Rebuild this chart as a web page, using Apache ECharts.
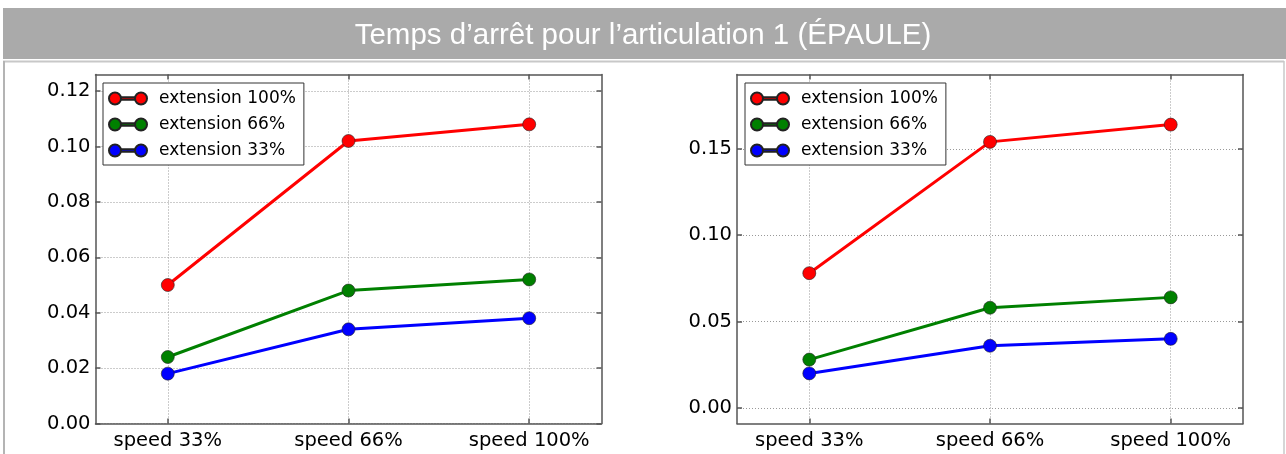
<!DOCTYPE html>
<html>
<head>
<meta charset="utf-8">
<script src="https://cdn.jsdelivr.net/npm/echarts@6/dist/echarts.min.js"></script>
<style>
  html, body { margin: 0; padding: 0; background: #fff; }
  #main { width: 1286px; height: 454px; }
</style>
</head>
<body>
<div id="main"></div>
<script>
var titleText = 'Temps d\u2019arrêt pour l\u2019articulation 1 (ÉPAULE)';
var categories = ['speed 33%', 'speed 66%', 'speed 100%'];
var seriesNames = ['extension 100%', 'extension 66%', 'extension 33%'];
var seriesColors = ['#ff0000', '#008000', '#0000ff'];

// left panel
var left100 = [0.050, 0.102, 0.108];
var left66 = [0.024, 0.048, 0.052];
var left33 = [0.018, 0.034, 0.038];
var leftTicks = [0, 0.02, 0.04, 0.06, 0.08, 0.10, 0.12];

// right panel
var right100 = [0.078, 0.154, 0.164];
var right66 = [0.028, 0.058, 0.064];
var right33 = [0.020, 0.036, 0.040];
var rightTicks = [0, 0.05, 0.10, 0.15];

var font = 'DejaVu Sans';
var frameStyle = { color: '#555', width: 1.5 };
var gridStyle = { color: '#999', width: 1, type: [1, 2] };
var catTicks = categories.map(function(c, i) { return i; });
var legendIcon = 'path://M0,6a6,6 0 1,0 12,0a6,6 0 1,0 -12,0ZM12,4.8H26V7.2H12ZM26,6a6,6 0 1,0 12,0a6,6 0 1,0 -12,0Z';

function xAxes(gi) {
  return [{
    gridIndex: gi, type: 'value', position: 'bottom', min: -0.4, max: 2.4,
    axisLine: { onZero: false, lineStyle: frameStyle },
    axisTick: { inside: true, length: 5, customValues: catTicks, lineStyle: frameStyle },
    axisLabel: {
      customValues: catTicks, margin: 7, color: '#000', fontFamily: font, fontSize: 19.5,
      formatter: function(v) { return categories[Math.round(v)]; }
    },
    splitLine: { show: true, lineStyle: gridStyle }
  }, {
    gridIndex: gi, type: 'value', position: 'top', min: -0.4, max: 2.4,
    axisLine: { onZero: false, lineStyle: frameStyle },
    axisTick: { inside: true, length: 5, customValues: catTicks, lineStyle: frameStyle },
    axisLabel: { show: false },
    splitLine: { show: false }
  }];
}

function yAxes(gi, min, max, ticks) {
  return [{
    gridIndex: gi, type: 'value', position: 'left', min: min, max: max,
    axisLine: { show: true, onZero: false, lineStyle: frameStyle },
    axisTick: { show: true, inside: true, length: 5, customValues: ticks, lineStyle: frameStyle },
    axisLabel: {
      customValues: ticks, margin: 5, color: '#000', fontFamily: font, fontSize: 19.5,
      formatter: function(v) { return v.toFixed(2); }
    },
    splitLine: { show: true, lineStyle: gridStyle }
  }, {
    gridIndex: gi, type: 'value', position: 'right', min: min, max: max,
    axisLine: { show: true, onZero: false, lineStyle: frameStyle },
    axisTick: { show: true, inside: true, length: 5, customValues: ticks, lineStyle: frameStyle },
    axisLabel: { show: false },
    splitLine: { show: false }
  }];
}

function lineSeries(name, color, values, xi, yi) {
  return {
    name: name, type: 'line', xAxisIndex: xi, yAxisIndex: yi,
    data: values.map(function(v, i) { return [i, v]; }),
    symbol: 'circle', symbolSize: 13,
    lineStyle: { color: color, width: 3 },
    itemStyle: { color: color, borderColor: '#222', borderWidth: 0.6 },
    emphasis: { disabled: true },
    animation: false
  };
}

function legendAt(left) {
  return {
    orient: 'vertical', left: left, top: 83,
    data: seriesNames, icon: legendIcon,
    itemWidth: 38, itemHeight: 12, itemGap: 9,
    padding: [7, 8, 6, 5],
    borderColor: '#333', borderWidth: 1, borderRadius: 0,
    backgroundColor: '#fff',
    selectedMode: false,
    textStyle: { fontFamily: font, fontSize: 17, color: '#000', padding: [0, 0, 0, 7] }
  };
}

var chart = echarts.init(document.getElementById('main'));
chart.setOption({
  animation: false,
  title: {
    text: titleText, left: 'center', top: 16,
    textStyle: { color: '#fff', fontFamily: 'Liberation Sans', fontSize: 29.5, fontWeight: 'normal' }
  },
  graphic: [
    { type: 'rect', z: -10, shape: { x: 3, y: 8, width: 1283, height: 51 }, style: { fill: '#aaaaaa' } },
    { type: 'line', z: -10, shape: { x1: 3, y1: 61.5, x2: 1284, y2: 61.5 }, style: { stroke: '#c8c8c8', lineWidth: 2 } },
    { type: 'line', z: -10, shape: { x1: 4, y1: 61, x2: 4, y2: 454 }, style: { stroke: '#b4b4b4', lineWidth: 2 } },
    { type: 'line', z: -10, shape: { x1: 1284, y1: 61, x2: 1284, y2: 454 }, style: { stroke: '#c8c8c8', lineWidth: 1.5 } }
  ],
  grid: [
    { left: 95.5, top: 74.5, width: 506, height: 349 },
    { left: 737, top: 74.5, width: 506, height: 349 }
  ],
  legend: [legendAt(103), legendAt(745)],
  xAxis: xAxes(0).concat(xAxes(1)),
  yAxis: yAxes(0, 0, 0.126, leftTicks).concat(yAxes(1, -0.009, 0.193, rightTicks)),
  series: [
    lineSeries(seriesNames[0], seriesColors[0], left100, 0, 0),
    lineSeries(seriesNames[1], seriesColors[1], left66, 0, 0),
    lineSeries(seriesNames[2], seriesColors[2], left33, 0, 0),
    lineSeries(seriesNames[0], seriesColors[0], right100, 2, 2),
    lineSeries(seriesNames[1], seriesColors[1], right66, 2, 2),
    lineSeries(seriesNames[2], seriesColors[2], right33, 2, 2)
  ]
});
</script>
</body>
</html>
